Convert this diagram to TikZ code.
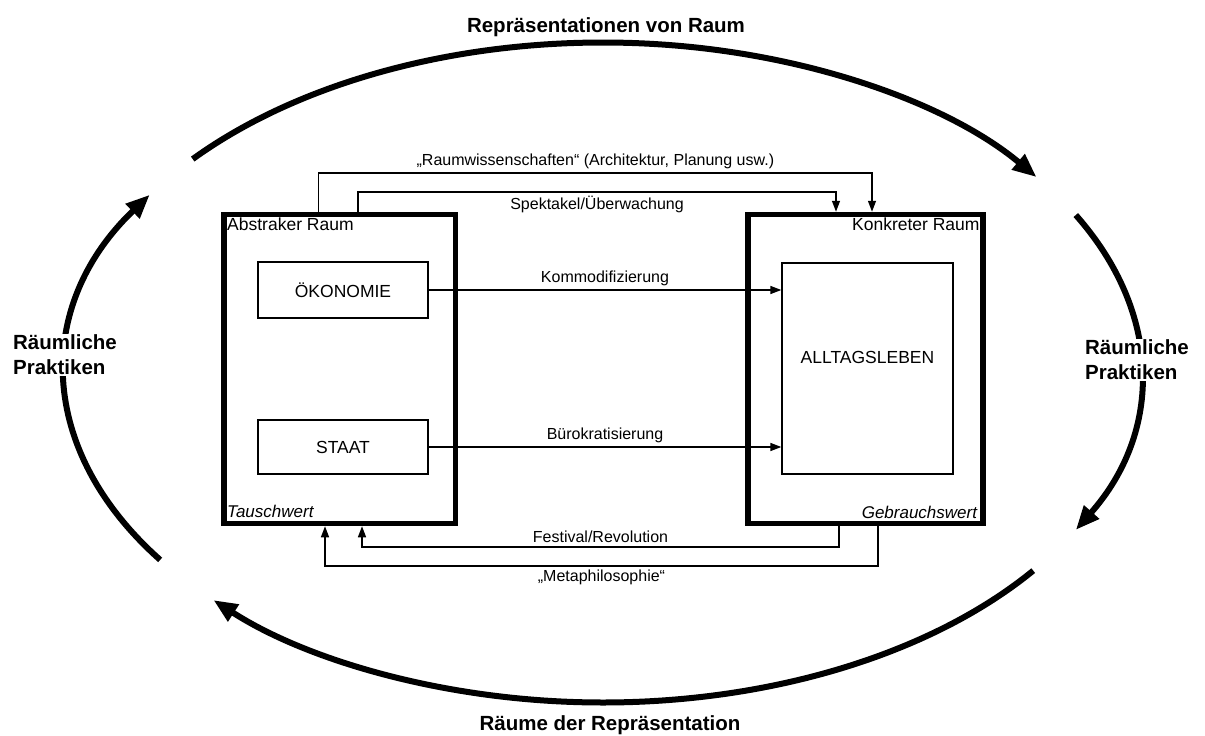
\documentclass[tikz,border=0pt]{standalone}
\usepackage{fontspec}
\setmainfont{Liberation Sans}
\usetikzlibrary{arrows.meta,positioning,calc}

\begin{document}
\begin{tikzpicture}[x=1pt, y=-1pt, every node/.style={font=\fontsize{16}{19}\selectfont},
	raum/.style={rectangle, draw, line width=5.5pt, inner sep=0pt, minimum height=309pt},
	feld/.style={rectangle, draw, line width=1.3pt, minimum width=170pt, font=\fontsize{17.5}{20}\selectfont},
	ecke/.style={inner sep=0pt, font=\fontsize{17.5}{20}\selectfont},
	pfeil/.style={line width=1.4pt, -{Triangle[length=11pt,width=8pt]}},
	bogen/.style={line width=6pt, -{Triangle[length=24pt,width=19pt]}},
	titel/.style={font=\fontsize{20.5}{25}\selectfont\bfseries}]
				\useasboundingbox (0,0) rectangle (1205,736);
				\coordinate (mitte) at (603,372.5);
				
				\draw[bogen] ([shift={(139.7:538pt and 330pt)}]mitte) arc[start angle=139.7, end angle=36.3, x radius=538pt, y radius=330pt];
				\draw[bogen] ([shift={(28.5:538pt and 330pt)}]mitte) arc[start angle=28.5, end angle=-28.5, x radius=538pt, y radius=330pt];
				\draw[bogen] ([shift={(-36.9:538pt and 330pt)}]mitte) arc[start angle=-36.9, end angle=-136.4, x radius=538pt, y radius=330pt];
				\draw[bogen] ([shift={(-145.4:538pt and 330pt)}]mitte) arc[start angle=-145.4, end angle=-212.6, x radius=538pt, y radius=330pt];
				
				\node[titel, anchor=base] (repvonraum) at (606,32) {Repräsentationen von Raum};
				\node[titel, anchor=base] (raeumederrep) at (610,730) {Räume der Repräsentation};
				\node[titel, align=left, fill=white, inner sep=1pt] (praxislinks) at (65,355) {Räumliche\\Praktiken};
				\node[titel, align=left, fill=white, inner sep=1pt] (praxisrechts) at (1137,360) {Räumliche\\Praktiken};
				
				\node[raum, minimum width=231.5pt] (abstrakt) at (339.75,369) {};
				\node[raum, minimum width=235pt] (konkret) at (865.5,369) {};
				\node[ecke, anchor=north west] (abstrakttitel) at ([shift={(5.75pt,-6.25pt)}]abstrakt.north west) {Abstraker Raum};
				\node[ecke, anchor=north east] (konkrettitel) at ([shift={(-6pt,-6.25pt)}]konkret.north east) {Konkreter Raum};
				\node[ecke, anchor=base west, font=\fontsize{17}{20}\selectfont\itshape] (tausch) at ([shift={(5.75pt,9.25pt)}]abstrakt.south west) {Tauschwert};
				\node[ecke, anchor=base east, font=\fontsize{17}{20}\selectfont\itshape] (gebrauch) at ([shift={(-8.5pt,8.25pt)}]konkret.south east) {Gebrauchswert};
				
				\node[feld, minimum height=56pt] (oekonomie) at (343,290) {ÖKONOMIE};
				\node[feld, minimum height=54pt] (staat) at (343,447) {STAAT};
				\node[feld, minimum width=171pt, minimum height=211pt, label={[yshift=11pt, font=\fontsize{17.5}{20}\selectfont]center:ALLTAGSLEBEN}] (alltag) at (867.5,368.5) {};
				
				\draw[pfeil] (oekonomie.east) -- (oekonomie.east -| alltag.west) node[midway, above] {Kommodifizierung};
				\draw[pfeil] (staat.east) -- (staat.east -| alltag.west) node[midway, above] {Bürokratisierung};
				\draw[pfeil] ([xshift=-21pt]abstrakt.north) -- ++(0,-38.75) -| ([xshift=6.5pt]konkret.north) node[pos=0.25, above] {„Raumwissenschaften“ (Architektur, Planung usw.)};
				\draw[pfeil] ([xshift=18.25pt]abstrakt.north) -- ++(0,-19.75) -| ([xshift=-29.5pt]konkret.north) node[pos=0.25, below] {Spektakel/Überwachung};
				\draw[pfeil] ([xshift=-26.5pt]konkret.south) -- ++(0,20.75) -| ([xshift=22.25pt]abstrakt.south) node[pos=0.25, above] {Festival/Revolution};
				\draw[pfeil] ([xshift=12.5pt]konkret.south) -- ++(0,39.75) -| ([xshift=-14.75pt]abstrakt.south) node[pos=0.25, below] {„Metaphilosophie“};
			\end{tikzpicture}
\end{document}
